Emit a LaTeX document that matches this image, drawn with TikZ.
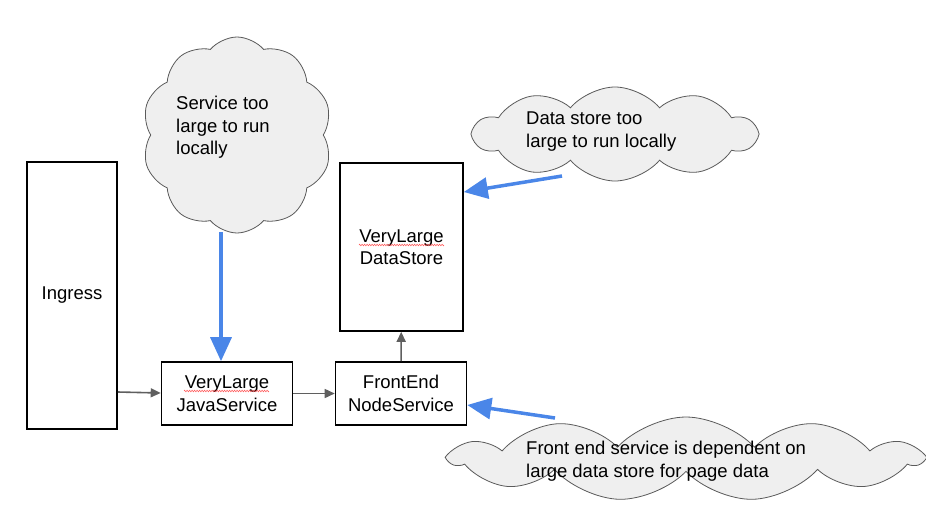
\documentclass[tikz,border=0pt]{standalone}
\usepackage{fontspec}
\setmainfont{Liberation Sans}
\usetikzlibrary{shapes.symbols,arrows.meta,decorations.pathmorphing}
\definecolor{cloudfill}{RGB}{239,239,239}
\definecolor{cloudline}{RGB}{90,90,90}
\definecolor{flowgray}{RGB}{95,95,95}
\definecolor{noteblue}{RGB}{74,134,232}
\begin{document}
\begin{tikzpicture}[x=1pt,y=-1pt,
  txt/.style={font=\fontsize{18.5}{22.5}\selectfont},
  box/.style={draw=black,line width=1.6pt,fill=white,txt,align=center,inner sep=0pt},
  puff/.style={cloud,draw=cloudline,fill=cloudfill,line width=0.8pt,cloud ignores aspect,inner sep=0pt},
  note/.style={txt,align=left,anchor=north west,inner sep=0pt},
  flow/.style={draw=flowgray,line width=1.6pt,-{Triangle[length=10pt,width=9pt]}},
  callout/.style={draw=noteblue,line width=3.5pt,-{Triangle[length=24pt,width=21pt]}},
  squiggle/.style={draw=red!70,line width=0.5pt,decorate,decoration={zigzag,segment length=2.5pt,amplitude=0.8pt}}]
\useasboundingbox (0,0) rectangle (926,509);

% clouds
\node[puff,cloud puffs=10,cloud puff arc=100,minimum width=190pt,minimum height=196pt] (c1) at (237,135) {};
\node[puff,cloud puffs=10,cloud puff arc=100,minimum width=282pt,minimum height=94pt] (c2) at (615,134) {};
\node[puff,cloud puffs=11,cloud puff arc=95,minimum width=470pt,minimum height=84pt] (c3) at (686,459) {};

\node[note] (t1) at (176,96) {Service too\\large to run\\locally};
\node[note] (t2) at (526,112) {Data store too\\large to run locally};
\node[note] (t3) at (526,441) {Front end service is dependent on\\large data store for page data};

% boxes
\node[box,minimum width=90pt,minimum height=267pt] (ingress) at (72,295.5) {Ingress};
\node[box,minimum width=131pt,minimum height=63pt] (java) at (227,393.5) {VeryLarge\\JavaService};
\node[box,minimum width=131pt,minimum height=63pt] (front) at (401,393.5) {FrontEnd\\NodeService};
\node[box,minimum width=123pt,minimum height=168pt] (store) at (401.5,247) {VeryLarge\\DataStore};

% spell-check marks
\draw[squiggle] (184,391) -- (269,391);
\draw[squiggle] (359,245) -- (444,245);

% flow arrows
\draw[flow] (ingress.east |- 0,392) -- (java.west |- 0,393);
\draw[flow] (java) -- (front);
\draw[flow] (front) -- (store);

% callout arrows
\coordinate (a1) at (221,232);
\coordinate (a2) at (562,176);
\coordinate (a3) at (555,418);
\draw[callout] (a1) -- (java.north -| a1);
\draw[callout] (a2) -- (store.east |- 0,192);
\draw[callout] (a3) -- (front.east |- 0,405);
\end{tikzpicture}
\end{document}
